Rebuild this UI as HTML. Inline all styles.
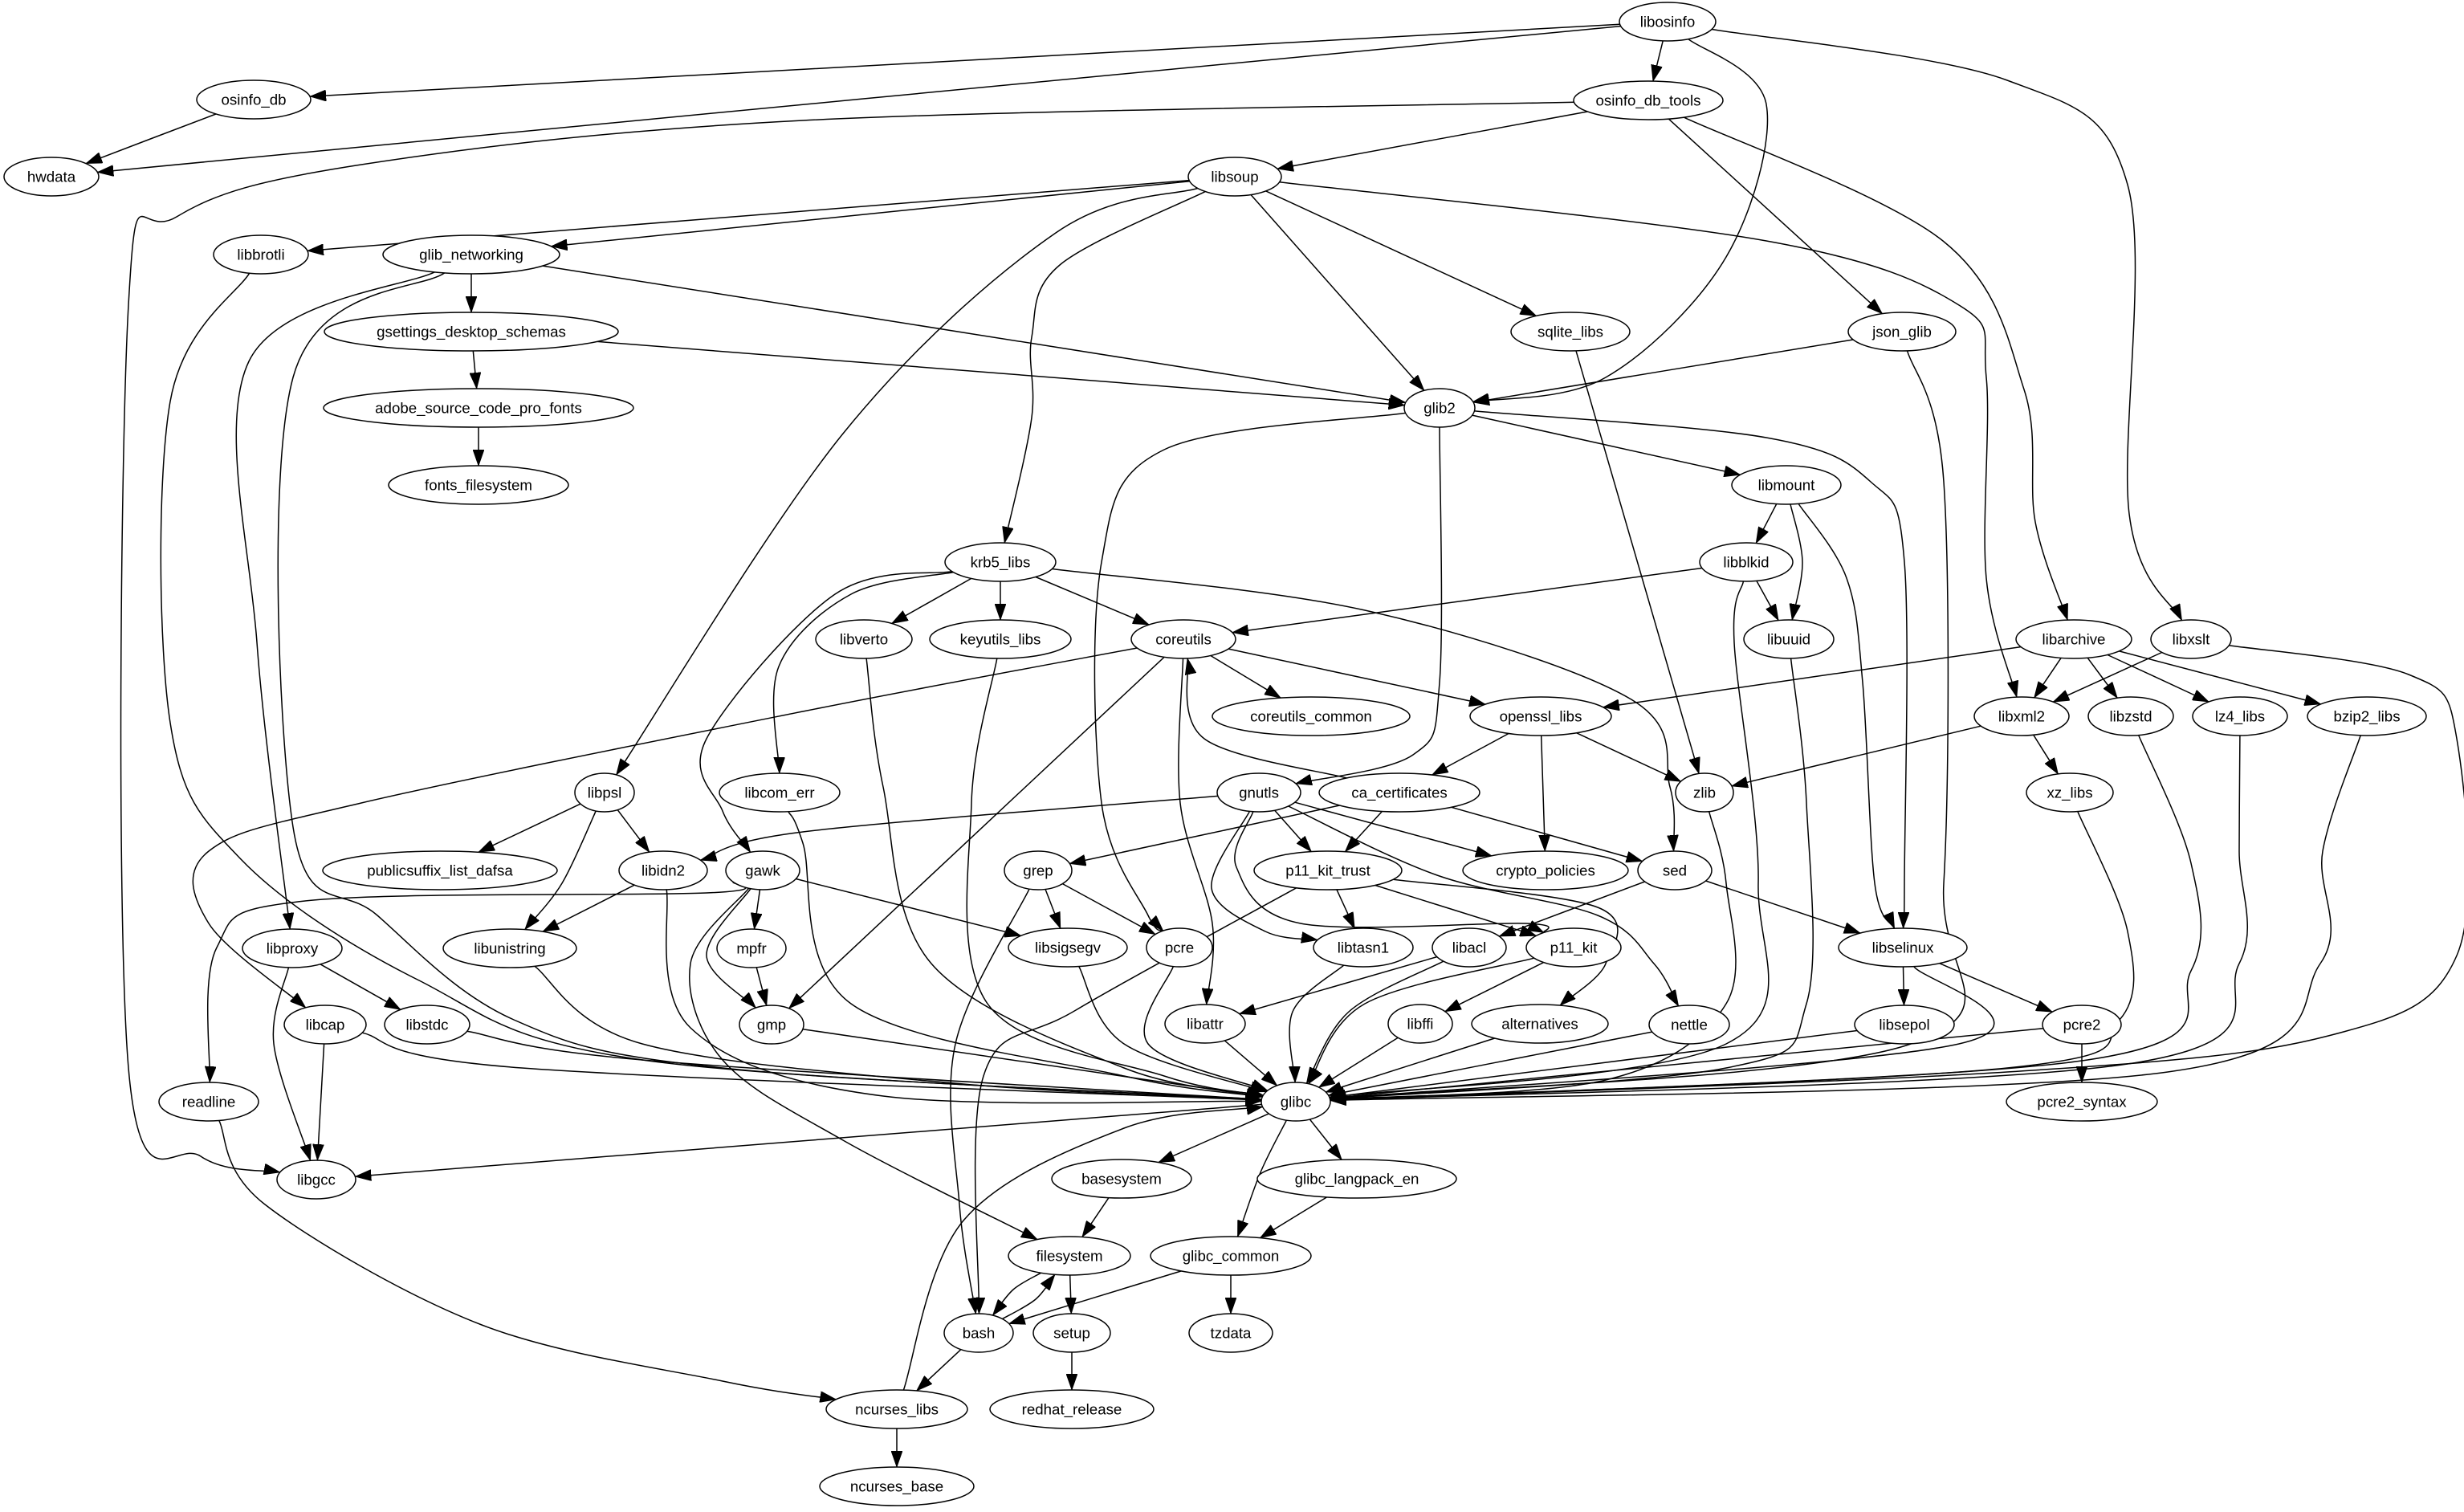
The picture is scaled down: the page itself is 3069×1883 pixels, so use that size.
<!DOCTYPE html>
<html><head><meta charset="utf-8"><style>
html,body{margin:0;padding:0;background:#fff}
svg{display:block}
text{font-family:"Liberation Sans",sans-serif;font-size:18.7px;text-anchor:middle;dominant-baseline:central;fill:#000}
ellipse{fill:#fff;stroke:#000;stroke-width:1.5}
path{fill:none;stroke:#000;stroke-width:1.5}
</style></head><body>
<svg id="g" width="3069" height="1883" viewBox="0 0 3069 1883" xmlns="http://www.w3.org/2000/svg">
<defs><marker id="a" viewBox="0 0 10 10" refX="10" refY="5" markerWidth="20" markerHeight="14" markerUnits="userSpaceOnUse" orient="auto" preserveAspectRatio="none"><path d="M0,0L10,5L0,10z" style="fill:#000;stroke:#000;stroke-width:0.5"/></marker></defs>
<g id="E"></g><g id="N"></g>
</svg>
<script>
var N={libosinfo:[2077,27,60],osinfo_db:[316,124,71],osinfo_db_tools:[2053,125,93],hwdata:[64,220,59],libsoup:[1538,220,58],libbrotli:[325,317,59],glib_networking:[587,317,110],sqlite_libs:[1956,413,74],json_glib:[2369,413,67],gsettings_desktop_schemas:[587,413,183],glib2:[1793,508,44],adobe_source_code_pro_fonts:[596,508,193],fonts_filesystem:[596,604,112],libmount:[2225,604,68],libblkid:[2175,700,58],krb5_libs:[1246,700,69],libverto:[1076,796,60],keyutils_libs:[1246,796,88],coreutils:[1474,796,65],libuuid:[2228,796,56],libarchive:[2583,796,72],libxslt:[2729,796,50],coreutils_common:[1633,892,123],openssl_libs:[1919,892,88],libxml2:[2518,892,59],libzstd:[2654,892,53],lz4_libs:[2790,892,59],bzip2_libs:[2948,892,74],libpsl:[753,987,37],libcom_err:[971,987,75],gnutls:[1568,987,52],ca_certificates:[1743,987,100],zlib:[2123,987,36],xz_libs:[2578,987,54],publicsuffix_list_dafsa:[548,1084,146],libidn2:[826,1084,55],gawk:[950,1084,46],grep:[1293,1084,42],p11_kit_trust:[1654,1084,92],crypto_policies:[1925,1084,103],sed:[2086,1084,46],libproxy:[364,1181,62],libunistring:[635,1181,83],mpfr:[936,1181,43],libsigsegv:[1330,1180,74],pcre:[1469,1180,41],libtasn1:[1698,1180,62],libacl:[1830,1180,46],p11_kit:[1960,1180,59],libselinux:[2370,1180,80],libcap:[405,1276,51],libstdc:[532,1276,53],gmp:[961,1276,40],libattr:[1501,1275,50],libffi:[1769,1275,40],alternatives:[1918,1275,85],nettle:[2104,1276,50],libsepol:[2372,1276,62],pcre2:[2593,1276,49],glibc:[1614,1372,43],readline:[260,1372,62],pcre2_syntax:[2593,1372,94],libgcc:[394,1469,49],basesystem:[1397,1468,87],glibc_langpack_en:[1690,1468,124],filesystem:[1332,1564,76],glibc_common:[1533,1564,100],bash:[1219,1660,43],setup:[1335,1660,48],tzdata:[1533,1660,52],ncurses_libs:[1117,1755,88],redhat_release:[1335,1755,102],ncurses_base:[1117,1851,96]};
var E=[
["libosinfo","osinfo_db"],["libosinfo","hwdata"],["libosinfo","osinfo_db_tools"],["libosinfo","glib2",[2200,130],[2150,320],[2000,470]],["libosinfo","libxslt",[2500,100],[2650,230],[2652,640]],
["osinfo_db","hwdata"],["osinfo_db_tools","libgcc",[1000,150],[450,205],[220,270],[160,380],[160,1330],[250,1440]],["osinfo_db_tools","libsoup"],["osinfo_db_tools","json_glib"],["osinfo_db_tools","libarchive",[2420,300],[2521,485],[2535,650]],
["libsoup","libbrotli"],["libsoup","glib_networking"],["libsoup","libpsl",[1315,290],[1050,540]],["libsoup","krb5_libs",[1320,330],[1285,420],[1285,520]],["libsoup","glib2"],["libsoup","sqlite_libs"],["libsoup","libxml2",[2200,300],[2440,380],[2474,470],[2474,720]],
["libbrotli","glibc",[212,500],[212,900],[300,1070],[520,1220],[800,1320]],["glib_networking","gsettings_desktop_schemas"],["glib_networking","glib2"],["glib_networking","libproxy",[310,450],[320,800]],["glib_networking","glibc",[365,470],[365,1030],[470,1140],[640,1270],[900,1330]],
["gsettings_desktop_schemas","adobe_source_code_pro_fonts"],["gsettings_desktop_schemas","glib2"],["adobe_source_code_pro_fonts","fonts_filesystem"],
["sqlite_libs","zlib"],["json_glib","glib2"],["json_glib","glibc",[2421,600],[2421,1100],[2380,1300]],
["glib2","libmount"],["glib2","pcre",[1450,560],[1372,700],[1372,1000],[1430,1140]],["glib2","gnutls",[1793,850],[1760,940]],["glib2","libselinux",[2200,545],[2330,600],[2372,700],[2372,1100]],
["libmount","libblkid"],["libmount","libuuid",[2245,700]],["libmount","libselinux",[2300,720],[2320,850],[2335,1100]],
["libblkid","coreutils"],["libblkid","libuuid"],["libblkid","glibc",[2160,800],[2190,1100],[2150,1300]],
["krb5_libs","libverto"],["krb5_libs","keyutils_libs"],["krb5_libs","coreutils"],["krb5_libs","libcom_err",[1060,740],[970,830]],["krb5_libs","gawk",[1040,740],[880,920],[900,1010]],["krb5_libs","sed",[1700,760],[2030,870],[2080,980]],
["libverto","glibc",[1100,980],[1160,1200],[1400,1330]],["keyutils_libs","glibc",[1210,1000],[1230,1250],[1450,1340]],["libuuid","glibc",[2250,1000],[2250,1250],[2150,1330]],
["coreutils","coreutils_common"],["coreutils","openssl_libs"],["coreutils","gmp"],["coreutils","libcap",[1000,886],[450,1000],[260,1060],[260,1150]],["coreutils","libattr",[1470,1000],[1510,1150]],
["libarchive","openssl_libs"],["libarchive","libxml2"],["libarchive","libzstd"],["libarchive","lz4_libs"],["libarchive","bzip2_libs"],
["libxslt","libxml2"],["libxslt","glibc",[3000,840],[3060,920],[3060,1190],[2900,1290],[2500,1335]],
["openssl_libs","ca_certificates"],["openssl_libs","crypto_policies"],["openssl_libs","zlib"],
["libxml2","zlib"],["libxml2","xz_libs"],
["libzstd","glibc",[2729,1075],[2729,1209],[2600,1320]],["lz4_libs","glibc",[2789,1060],[2789,1200],[2650,1325]],["bzip2_libs","glibc",[2893,1060],[2890,1200],[2700,1335]],["xz_libs","glibc",[2650,1160],[2640,1270],[2500,1330]],["zlib","glibc",[2150,1100],[2150,1250],[2000,1345]],
["libpsl","publicsuffix_list_dafsa"],["libpsl","libidn2"],["libpsl","libunistring",[700,1100]],["libcom_err","glibc",[1000,1050],[1060,1250],[1400,1340]],
["gnutls","libidn2",[1000,1036]],["gnutls","p11_kit_trust"],["gnutls","crypto_policies"],["gnutls","libtasn1",[1509,1106],[1576,1160]],["gnutls","p11_kit",[1540,1080],[1620,1150],[1900,1150]],["gnutls","nettle",[1790,1090],[1990,1140],[2060,1200]],
["ca_certificates","coreutils",[1500,920]],["ca_certificates","grep"],["ca_certificates","p11_kit_trust"],["ca_certificates","sed"],
["libidn2","libunistring"],["libidn2","glibc",[860,1280],[1100,1365]],
["gawk","readline",[880,1112],[380,1122],[270,1180]],["gawk","mpfr"],["gawk","gmp",[880,1190]],["gawk","libsigsegv"],["gawk","filesystem",[860,1200],[900,1320],[1050,1420]],
["grep","libsigsegv"],["grep","pcre"],["grep","bash",[1190,1300],[1195,1500]],
["p11_kit_trust","libtasn1"],["p11_kit_trust","p11_kit"],["p11_kit_trust","bash",[1340,1258],[1225,1340]],["p11_kit_trust","alternatives",[1990,1130],[2000,1200]],
["sed","libacl"],["sed","libselinux"],
["libproxy","libstdc"],["libproxy","libgcc",[341,1300]],["libunistring","glibc",[800,1300],[1200,1350]],["mpfr","gmp"],
["libsigsegv","glibc",[1400,1300]],["pcre","glibc",[1430,1300]],["libtasn1","glibc",[1610,1260]],["libacl","libattr"],["libacl","glibc",[1680,1260]],["p11_kit","libffi"],["p11_kit","glibc",[1700,1250]],
["libselinux","libsepol"],["libselinux","pcre2"],["libselinux","glibc",[2440,1300]],
["libcap","libgcc"],["libcap","glibc",[650,1330]],["libstdc","glibc",[800,1320]],["gmp","glibc"],["libattr","glibc"],["libffi","glibc"],["alternatives","glibc"],["nettle","glibc"],["libsepol","glibc"],["pcre2","glibc"],["pcre2","pcre2_syntax"],
["glibc","libgcc"],["glibc","basesystem"],["glibc","glibc_langpack_en"],["glibc","glibc_common",[1570,1460]],
["readline","ncurses_libs",[330,1500],[600,1650],[900,1720]],["basesystem","filesystem"],["glibc_langpack_en","glibc_common"],
["filesystem","bash",[1262,1606]],["filesystem","setup"],["bash","filesystem",[1290,1618]],["glibc_common","bash"],["glibc_common","tzdata"],
["bash","ncurses_libs"],["setup","redhat_release"],["ncurses_libs","glibc",[1200,1520],[1400,1405]],["ncurses_libs","ncurses_base"]];
function bd(n,tx,ty){var c=N[n],dx=tx-c[0],dy=ty-c[1],rx=c[2],ry=24;var t=1/Math.sqrt(dx*dx/(rx*rx)+dy*dy/(ry*ry));return [c[0]+dx*t,c[1]+dy*t];}
var s="";
E.forEach(function(e){var a=N[e[0]],b=N[e[1]];var w=e.slice(2);
var f=w.length?w[0]:[b[0],b[1]],l=w.length?w[w.length-1]:[a[0],a[1]];
var p=[bd(e[0],f[0],f[1])].concat(w,[bd(e[1],l[0],l[1])]);
var d="M"+p[0][0].toFixed(1)+","+p[0][1].toFixed(1);
for(var i=0;i<p.length-1;i++){var p0=p[Math.max(i-1,0)],p1=p[i],p2=p[i+1],p3=p[Math.min(i+2,p.length-1)];
var c1=[p1[0]+(p2[0]-p0[0])/6,p1[1]+(p2[1]-p0[1])/6],c2=[p2[0]-(p3[0]-p1[0])/6,p2[1]-(p3[1]-p1[1])/6];
d+=" C"+c1[0].toFixed(1)+","+c1[1].toFixed(1)+" "+c2[0].toFixed(1)+","+c2[1].toFixed(1)+" "+p2[0].toFixed(1)+","+p2[1].toFixed(1);}
s+='<path marker-end="url(#a)" d="'+d+'"/>';});
document.getElementById("E").innerHTML=s;
var t="";for(var k in N){var c=N[k];t+='<ellipse cx="'+c[0]+'" cy="'+c[1]+'" rx="'+c[2]+'" ry="24"/><text x="'+c[0]+'" y="'+c[1]+'">'+k+'</text>';}
document.getElementById("N").innerHTML=t;
</script>
</body></html>
